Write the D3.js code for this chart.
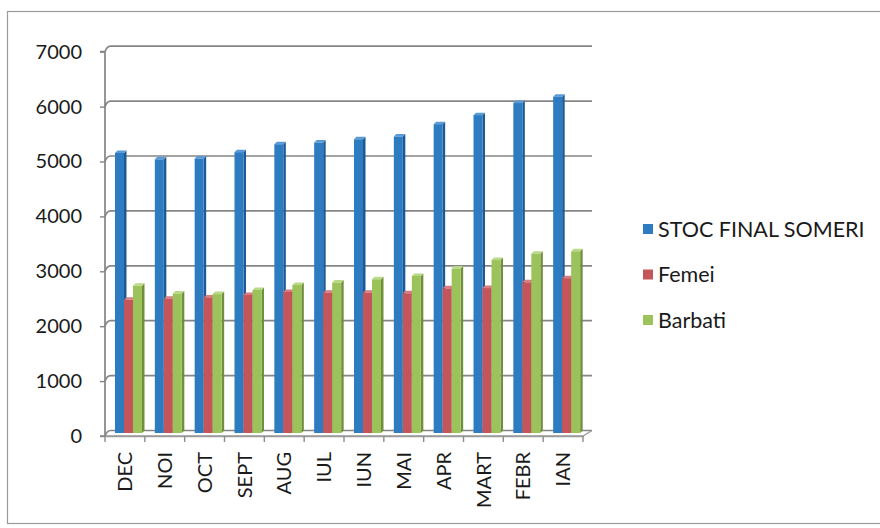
<!DOCTYPE html>
<html><head><meta charset="utf-8">
<script src="https://cdn.jsdelivr.net/npm/d3@7"></script>
<style>body{margin:0;background:#fff}svg{display:block}text{font-family:Lato,"Open Sans",sans-serif;fill:#1a1a1a}</style>
</head><body><svg id="c" width="880" height="528"></svg>
<script>
const categories = ["DEC","NOI","OCT","SEPT","AUG","IUL","IUN","MAI","APR","MART","FEBR","IAN"];
const stocFinal = [5100,4985,5000,5115,5260,5290,5350,5400,5625,5790,6010,6125];
const femei =     [2425,2445,2470,2515,2570,2555,2555,2545,2635,2640,2745,2820];
const barbati =   [2680,2540,2530,2605,2695,2740,2800,2860,2995,3150,3265,3310];
const seriesNames = ["STOC FINAL SOMERI","Femei","Barbati"];
const yTicks = [0,1000,2000,3000,4000,5000,6000,7000];

const colors = ["#2d7cc2","#c4555a","#9cc35b"];
const sides  = ["#1d5a95","#8e3437","#6f8f3a"];
const caps   = ["#5a9ad6","#d97d80","#b8d985"];
const series = [stocFinal, femei, barbati];

const svg = d3.select("#c");
// outer border
svg.append("rect").attr("x",7.5).attr("y",11.5).attr("width",900).attr("height",512)
  .attr("fill","none").attr("stroke","#9a9a9a").attr("stroke-width",1.2);

const x0 = 105, x1 = 583;
const x = d3.scaleBand().domain(categories).range([x0,x1]).paddingInner(0).paddingOuter(0);
const y = d3.scaleLinear().domain([0,7000]).range([436,51.7]);
const backDx = 5.5, backDy = -5.5;

const g = svg.append("g");
// back wall gridlines
yTicks.forEach(v=>{
  const yy = y(v);
  g.append("path").attr("d",`M${x0},${yy} Q${x0+2},${yy+backDy} ${x0+backDx},${yy+backDy} L${x1+9},${yy+backDy}`)
    .attr("fill","none").attr("stroke","#858585").attr("stroke-width",1.7);
});
// floor
g.append("path").attr("d",`M${x0},${y(0)} L${x1},${y(0)} L${x1+9},${y(0)+backDy}`)
  .attr("fill","none").attr("stroke","#9a9a9a").attr("stroke-width",1.3);

// y axis
const yAxis = d3.axisLeft(y).tickValues(yTicks).tickSize(5).tickPadding(18).tickFormat(d3.format("d"));
const ya = svg.append("g").attr("transform",`translate(${x0},0)`).call(yAxis);
ya.select(".domain").attr("stroke","#858585").attr("stroke-width",1.7).attr("d",`M-5,${y(7000)}H0V${y(0)}H-5`);
ya.selectAll(".tick line").attr("stroke","#858585").attr("stroke-width",1.4);
ya.selectAll(".tick text").style("font-size","20px").attr("fill","#1a1a1a");

// x axis
const xAxis = d3.axisBottom(x).tickSize(0).tickFormat(d=>d);
const xa = svg.append("g").attr("transform",`translate(0,${y(0)})`).call(xAxis);
xa.select(".domain").attr("stroke","#9a9a9a").attr("stroke-width",1.3);
xa.selectAll(".tick text").style("font-size","20px").attr("fill","#1a1a1a")
  .attr("transform","rotate(-90)").attr("text-anchor","end").attr("dy","0.36em").attr("x",-16).attr("y",0);
// category ticks at boundaries
const bounds = categories.map(c=>x(c)).concat([x1]);
xa.selectAll(".btick").data(bounds).join("line").attr("class","btick")
  .attr("x1",d=>d).attr("x2",d=>d).attr("y1",0).attr("y2",6).attr("stroke","#8c8c8c").attr("stroke-width",1.4);

// bars
const barW = 9, gOff = 10, dep = 2.5;
const base = y(0) - 3;
const bars = svg.append("g");
categories.forEach((c,i)=>{
  series.forEach((s,k)=>{
    const bx = x(c) + gOff + k*barW;
    const h = y(0) - y(s[i]);
    const top = base - h;
    bars.append("path").attr("d",`M${bx+barW},${base} L${bx+barW},${top} L${bx+barW+dep},${top-dep} L${bx+barW+dep},${base-dep} Z`).attr("fill",sides[k]);
    bars.append("path").attr("d",`M${bx},${top} L${bx+dep},${top-dep} L${bx+barW+dep},${top-dep} L${bx+barW},${top} Z`).attr("fill",caps[k]);
    bars.append("rect").attr("x",bx).attr("y",top).attr("width",barW).attr("height",h).attr("fill",colors[k]);
  });
});

// legend
const lg = svg.append("g");
seriesNames.forEach((n,k)=>{
  const cy = 229 + k*45.5;
  lg.append("rect").attr("x",643).attr("y",cy-5).attr("width",10).attr("height",10).attr("fill",colors[k]);
  lg.append("text").attr("x",658).attr("y",cy).attr("dy","0.36em").style("font-size","21.5px").text(n);
});
</script></body></html>
